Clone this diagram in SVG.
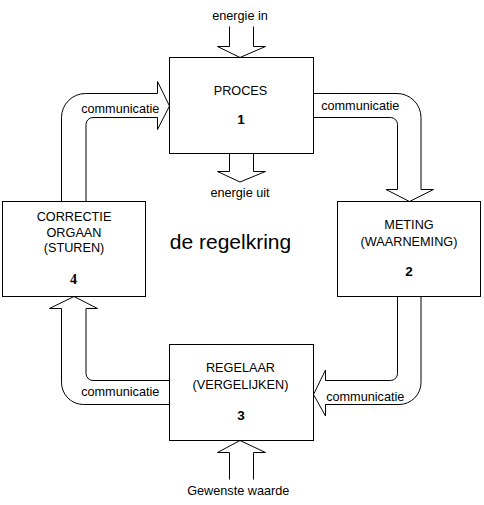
<svg xmlns="http://www.w3.org/2000/svg" width="484" height="505" viewBox="0 0 484 505">
<style>
.box{fill:#fff;stroke:#000;stroke-width:1}
.arr{fill:none;stroke:#000;stroke-width:1;stroke-linejoin:miter}
text{font-family:"Liberation Sans",Arial,sans-serif;font-size:12.7px;fill:#000;text-anchor:middle}
.num{font-weight:bold;font-size:13.5px}
.numserif{font-family:"Liberation Serif","Times New Roman",serif;font-weight:bold;font-size:14px}
.title{font-size:21px}
</style>
<rect width="484" height="505" fill="#fff"/>
<g id="connectors">
<path class="arr" d="M229.5,26.5 L229.5,46.5 L217.5,46.5 L240,57.5 L265.5,46.5 L253.5,46.5 L253.5,26.5"/>
<path class="arr" d="M229.5,153.5 L229.5,171.5 L217.5,171.5 L240,182 L265.5,171.5 L253.5,171.5 L253.5,153.5"/>
<path class="arr" d="M229.5,479.5 L229.5,452.5 L217.5,452.5 L240,440.5 L265.5,452.5 L253.5,452.5 L253.5,479.5"/>
<path class="arr" d="M61.5,201.5 L61.5,117.5 A24,24 0 0 1 85.5,93.5 L157.5,93.5 L157.5,81.5 L169.5,106 L157.5,129.5 L157.5,117.5 L93,117.5 A7,7 0 0 0 86,124.5 L86,201.5"/>
<path class="arr" d="M313.5,93.5 L397,93.5 A24,24 0 0 1 421,117.5 L421,189.5 L433.5,189.5 L409.5,201.5 L386,189.5 L397.5,189.5 L397.5,124.5 A7,7 0 0 0 390.5,117.5 L313.5,117.5"/>
<path class="arr" d="M397.5,296.5 L397.5,373.5 A7,7 0 0 1 390.5,380.5 L325.5,380.5 L325.5,370 L313.5,394.5 L325.5,416 L325.5,404.5 L399,404.5 A22,22 0 0 0 421,382.5 L421,296.5"/>
<path class="arr" d="M169.5,380.5 L93,380.5 A7,7 0 0 1 86,373.5 L86,308.5 L97.5,308.5 L74,296.5 L49.5,308.5 L61.5,308.5 L61.5,382.5 A22,22 0 0 0 83.5,404.5 L169.5,404.5"/>
<text x="120.3" y="112.8">communicatie</text>
<text x="360.3" y="109.5">communicatie</text>
<text x="120.3" y="395.5">communicatie</text>
<text x="365.3" y="400.5">communicatie</text>
<text x="240" y="19.5">energie in</text>
<text x="240" y="197">energie uit</text>
<text x="238.3" y="494.5">Gewenste waarde</text>
</g>
<g id="proces">
<rect class="box" x="169.5" y="57.5" width="144" height="96"/>
<text x="240.5" y="95">PROCES</text>
<text class="num" x="241" y="124">1</text>
</g>
<g id="meting">
<rect class="box" x="337.5" y="201.5" width="143" height="95"/>
<text x="409" y="229">METING</text>
<text x="409" y="246">(WAARNEMING)</text>
<text class="num" x="409" y="276">2</text>
</g>
<g id="regelaar">
<rect class="box" x="169.5" y="344.5" width="144" height="96"/>
<text x="240.5" y="372">REGELAAR</text>
<text x="240.5" y="389">(VERGELIJKEN)</text>
<text class="num" x="241" y="419.5">3</text>
</g>
<g id="correctie">
<rect class="box" x="2.5" y="201.5" width="143" height="95"/>
<text x="74" y="220.5">CORRECTIE</text>
<text x="74" y="237">ORGAAN</text>
<text x="74" y="252">(STUREN)</text>
<text class="numserif" x="73.5" y="284">4</text>
</g>
<g id="title">
<text class="title" x="230.5" y="249">de regelkring</text>
</g>
</svg>
